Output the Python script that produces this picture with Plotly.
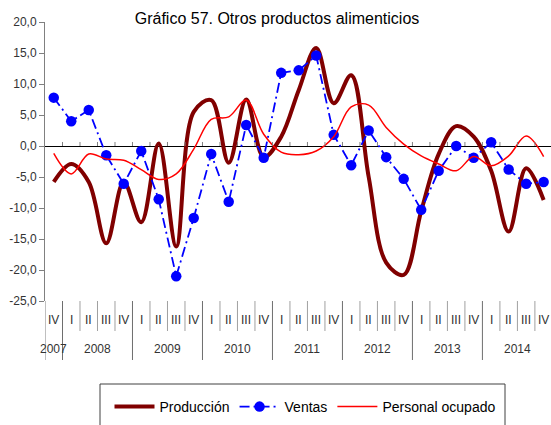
import plotly.graph_objects as go

# Quarterly series, 2007-IV to 2014-IV (annual variation, %)
quarters = ["IV",
            "I", "II", "III", "IV",
            "I", "II", "III", "IV",
            "I", "II", "III", "IV",
            "I", "II", "III", "IV",
            "I", "II", "III", "IV",
            "I", "II", "III", "IV",
            "I", "II", "III", "IV"]
years = ["2007", "2008", "2009", "2010", "2011", "2012", "2013", "2014"]
year_span = [1, 4, 4, 4, 4, 4, 4, 4]

produccion = [-5.8, -2.9, -5.8, -15.7, -5.8, -12.3, 0.4, -16.2, 5.5, 7.4,
              -2.7, 7.5, -1.8, 1.5, 9.0, 15.8, 6.9, 11.4, -5.0, -18.8,
              -20.8, -10.5, -1.3, 3.2, 1.5, -4.0, -13.8, -3.6, -8.7]
ventas = [7.8, 4.0, 5.8, -1.5, -6.1, -0.8, -8.6, -21.0, -11.6, -1.3,
          -9.0, 3.4, -1.9, 11.8, 12.2, 14.6, 1.8, -3.1, 2.5, -1.8,
          -5.3, -10.3, -4.0, 0.0, -1.9, 0.6, -3.8, -6.1, -5.8]
personal = [-1.2, -4.5, -1.3, -2.1, -2.3, -3.8, -5.4, -4.5, -0.5, 4.3,
            4.7, 7.4, 1.9, -1.0, -1.4, -0.8, 1.5, 6.3, 6.6, 3.0,
            0.3, -1.6, -2.9, -4.0, -1.7, -3.2, -1.6, 1.6, -1.7]

y_tickvals = [-25, -20, -15, -10, -5, 0, 5, 10, 15, 20]
y_ticktext = ["-25,0", "-20,0", "-15,0", "-10,0", "-5,0", "0,0",
              "5,0", "10,0", "15,0", "20,0"]

W, H = 551, 425
ML, MT, MB = 45, 22, 124
PLOT_B = H - MB
PLOT_H = H - MT - MB
FONT = "Liberation Sans, Arial, sans-serif"
x = list(range(len(quarters)))


def py_to_paper(py):
    return (PLOT_B - py) / PLOT_H


fig = go.Figure()
fig.add_trace(go.Scatter(
    x=x, y=produccion, name="Producción", mode="lines",
    line=dict(color="#800000", width=4, shape="spline", smoothing=1.0)))
fig.add_trace(go.Scatter(
    x=x, y=ventas, name="Ventas", mode="lines+markers",
    line=dict(color="#0000ff", width=1.8, dash="10px,4px,2px,4px"),
    marker=dict(color="#0000ff", size=10.5)))
fig.add_trace(go.Scatter(
    x=x, y=personal, name="Personal ocupado", mode="lines",
    line=dict(color="#ff0000", width=1.5, shape="spline", smoothing=1.0)))

shapes = []
# small tick marks above the zero line at category boundaries
for i in range(len(quarters) - 1):
    shapes.append(dict(type="line", xref="x", yref="y", x0=i + 0.5, x1=i + 0.5,
                       y0=0, y1=0.65, line=dict(color="#808080", width=1)))

# category label dividers below the plot
year_starts = set()
pos = 0
for span in year_span:
    year_starts.add(pos)
    pos += span
for i in range(1, len(quarters) + 1):
    is_year = i in year_starts or i == len(quarters)
    shapes.append(dict(type="line", xref="x", yref="paper", x0=i - 0.5, x1=i - 0.5,
                       y0=py_to_paper(301), y1=py_to_paper(360 if is_year else 331),
                       line=dict(color="#6e6e6e" if is_year else "#a0a0a0", width=1)))
# left border of the label area, continuing the value axis
shapes.append(dict(type="line", xref="x", yref="paper", x0=-0.5, x1=-0.5,
                   y0=0, y1=py_to_paper(360), line=dict(color="#808080", width=1)))
# legend frame
shapes.append(dict(type="rect", xref="paper", yref="paper",
                   x0=(100 - ML) / (W - ML), x1=(505 - ML) / (W - ML),
                   y0=py_to_paper(384), y1=py_to_paper(445),
                   line=dict(color="#404040", width=1), fillcolor="rgba(0,0,0,0)"))

annotations = []
for i, q in enumerate(quarters):
    annotations.append(dict(x=i, y=py_to_paper(320), xref="x", yref="paper",
                            text=q, showarrow=False, yanchor="middle",
                            font=dict(family=FONT, size=12, color="#333333")))
pos = 0
for yr, span in zip(years, year_span):
    annotations.append(dict(x=pos + (span - 1) / 2, y=py_to_paper(349), xref="x",
                            yref="paper", text=yr, showarrow=False, yanchor="middle",
                            font=dict(family=FONT, size=12, color="#333333")))
    pos += span

fig.update_layout(
    width=W, height=H,
    margin=dict(l=ML, r=0, t=MT, b=MB, autoexpand=False),
    paper_bgcolor="white", plot_bgcolor="white",
    title=dict(text="Gráfico 57. Otros productos alimenticios",
               xref="container", yref="container", x=277 / W, xanchor="center",
               y=1 - 18 / H, yanchor="middle",
               font=dict(family=FONT, size=16, color="#000000")),
    xaxis=dict(range=[-0.5, 28.42], showticklabels=False, showgrid=False,
               zeroline=False, showline=False, ticks=""),
    yaxis=dict(range=[-25, 20], tickvals=y_tickvals, ticktext=y_ticktext,
               showgrid=False, showline=True, linecolor="#808080", linewidth=1,
               ticks="outside", ticklen=5, tickcolor="#808080",
               zeroline=True, zerolinecolor="#000000", zerolinewidth=1.2,
               tickfont=dict(family=FONT, size=12, color="#333333")),
    showlegend=True,
    legend=dict(orientation="h", xref="container", yref="container",
                x=305 / W, xanchor="center", y=1 - 407 / H, yanchor="middle",
                font=dict(family=FONT, size=14, color="#000000"),
                bgcolor="rgba(0,0,0,0)", borderwidth=0, itemwidth=40),
    shapes=shapes, annotations=annotations,
)

fig.write_html("out.html")
